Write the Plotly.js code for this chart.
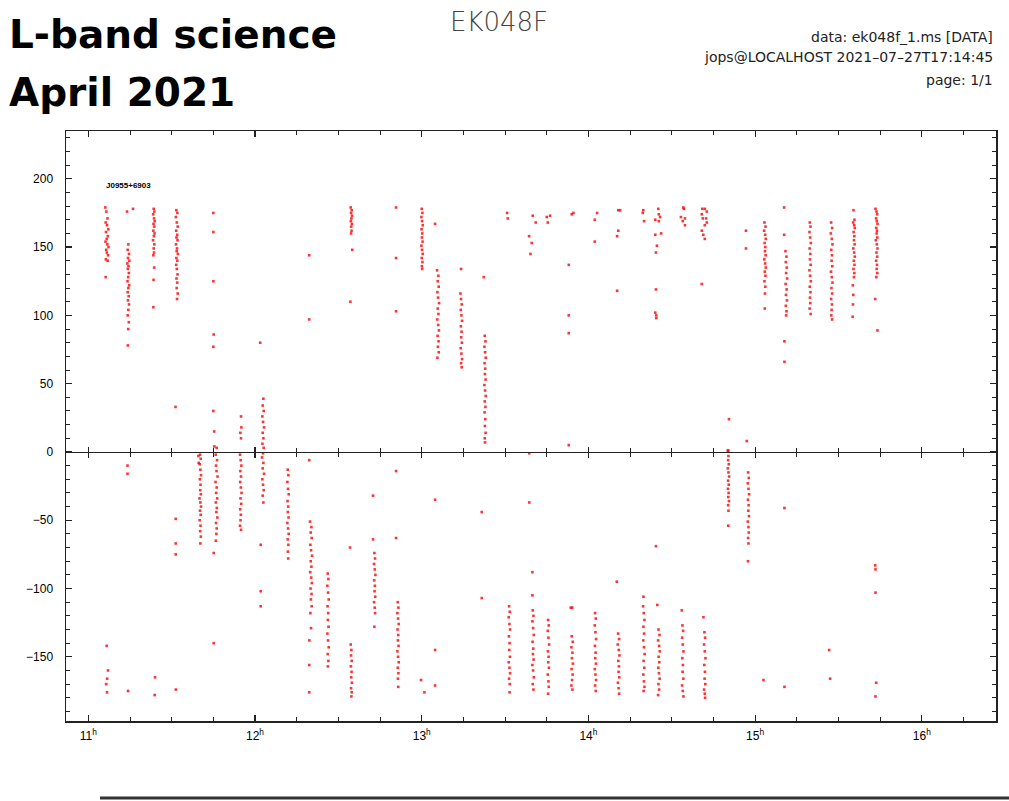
<!DOCTYPE html>
<html><head><meta charset="utf-8">
<script src="https://cdn.plot.ly/plotly-3.0.1.min.js"></script>
<style>html,body{margin:0;padding:0;background:#fff;} #chart{width:1009px;height:801px;}</style>
</head><body><div id="chart"></div>
<script>
// ---- data: time (hours UT) and phase (degrees) per scan ----
const s01t=[11.102,11.108,11.115,11.104,11.112,11.120,11.106,11.117,11.110,11.103,11.114,11.121,11.107,11.111,11.118,11.105,11.116,11.104,11.110,11.118,11.113,11.107,11.112];
const s01p=[179,176,171,168,166,163,161,158,156,154,152,150,148,146,144,141,140,128,-142,-160,-166,-170,-176];
const s02t=[11.268,11.232,11.240,11.236,11.244,11.238,11.246,11.234,11.241,11.237,11.243,11.239,11.235,11.245,11.240,11.236,11.242,11.238,11.244,11.240,11.236,11.243,11.239,11.237,11.235,11.235,11.238];
const s02p=[178,176,152,148,145,142,140,138,136,134,131,128,125,122,120,117,114,111,108,104,100,95,90,78,-10,-16,-175];
const s03t=[11.392,11.396,11.389,11.394,11.398,11.391,11.395,11.390,11.397,11.393,11.388,11.396,11.392,11.394,11.390,11.395,11.391,11.390,11.400,11.398];
const s03p=[178,176,174,171,169,167,165,162,160,158,155,152,149,146,144,135,126,106,-165,-178];
const s04t=[11.528,11.534,11.525,11.531,11.536,11.527,11.533,11.529,11.535,11.526,11.532,11.530,11.537,11.528,11.534,11.527,11.531,11.535,11.529,11.533,11.530,11.536,11.532,11.523,11.524,11.524,11.524,11.525];
const s04p=[177,175,172,168,165,162,159,157,155,152,149,147,145,142,140,137,134,130,127,124,120,116,112,33,-49,-67,-75,-174];
const s05t=[11.670,11.674,11.668,11.672,11.676,11.669,11.673,11.671,11.675,11.667,11.672,11.676,11.670,11.674,11.668,11.673,11.671,11.675,11.672,11.660,11.662];
const s05p=[-2,-5,-9,-13,-17,-20,-24,-28,-31,-34,-37,-40,-43,-46,-50,-54,-58,-62,-67,-3,-8];
const s06t=[11.750,11.750,11.750,11.752,11.750,11.750,11.755,11.756,11.770,11.764,11.772,11.766,11.769,11.775,11.763,11.770,11.767,11.773,11.765,11.771,11.768,11.774,11.766,11.770,11.768,11.765,11.752,11.752];
const s06p=[175,161,125,86,77,30,15,4,3,-2,-6,-10,-14,-18,-22,-26,-30,-34,-37,-41,-44,-48,-52,-56,-60,-65,-74,-140];
const s07t=[11.916,11.918,11.912,11.916,11.910,11.914,11.918,11.912,11.916,11.911,11.915,11.919,11.913,11.917,11.911,11.915,11.913,11.910,11.916];
const s07p=[26,18,14,10,-2,-6,-10,-14,-18,-22,-26,-30,-34,-38,-42,-46,-50,-54,-57];
const s08t=[12.031,12.050,12.046,12.052,12.044,12.048,12.054,12.046,12.050,12.044,12.052,12.048,12.042,12.050,12.046,12.054,12.044,12.048,12.052,12.046,12.050,12.034,12.034,12.034];
const s08p=[80,39,34,30,26,22,18,14,10,6,3,-1,-4,-8,-12,-16,-20,-24,-28,-32,-37,-68,-102,-113];
const s09t=[12.196,12.200,12.194,12.198,12.202,12.195,12.199,12.197,12.201,12.194,12.198,12.202,12.196,12.200,12.197,12.199];
const s09p=[-13,-17,-22,-27,-31,-36,-40,-44,-48,-52,-56,-60,-64,-68,-73,-78];
const s10t=[12.325,12.325,12.325,12.325,12.325,12.330,12.338,12.334,12.340,12.332,12.336,12.342,12.334,12.338,12.331,12.337,12.341,12.333,12.339,12.335,12.340,12.332,12.336,12.326];
const s10p=[144,97,-6,-156,-176,-51,-55,-59,-63,-68,-72,-76,-80,-84,-88,-92,-96,-100,-104,-108,-113,-118,-129,-138];
const s11t=[12.436,12.440,12.434,12.438,12.442,12.435,12.439,12.437,12.441,12.434,12.438,12.442,12.436,12.440,12.437];
const s11p=[-89,-93,-98,-103,-108,-113,-118,-123,-128,-133,-138,-143,-148,-153,-157];
const s12t=[12.574,12.580,12.576,12.582,12.578,12.575,12.581,12.577,12.579,12.576,12.583,12.572,12.570,12.574,12.578,12.576,12.580,12.575,12.579,12.577,12.581,12.576,12.580,12.578];
const s12p=[179,177,175,173,171,169,167,165,162,160,148,110,-70,-141,-145,-149,-153,-157,-161,-165,-169,-173,-176,-179];
const s13t=[12.708,12.708,12.716,12.720,12.714,12.718,12.722,12.715,12.719,12.717,12.721,12.714,12.718,12.720,12.716];
const s13p=[-32,-64,-74,-78,-82,-86,-90,-94,-98,-102,-106,-110,-114,-118,-128];
const s14t=[12.846,12.846,12.846,12.846,12.846,12.856,12.860,12.854,12.858,12.862,12.855,12.859,12.857,12.861,12.854,12.858,12.862,12.856,12.860,12.857,12.859];
const s14p=[179,142,103,-14,-63,-110,-114,-118,-122,-126,-130,-134,-138,-142,-146,-150,-154,-158,-162,-166,-172];
const s15t=[13.000,13.004,12.998,13.002,13.006,12.999,13.003,13.001,13.005,12.998,13.002,13.006,13.000,13.004,13.001,13.003,12.996,13.016];
const s15p=[178,175,172,169,166,163,160,157,154,151,148,145,142,139,136,134,-167,-176];
const s16t=[13.080,13.080,13.080,13.080,13.092,13.100,13.096,13.102,13.094,13.098,13.104,13.096,13.100,13.093,13.099,13.103,13.095,13.101,13.097,13.102,13.094];
const s16p=[167,-35,-145,-171,133,129,125,121,117,113,109,105,101,97,93,89,85,81,77,73,69];
const s17t=[13.236,13.232,13.236,13.240,13.234,13.238,13.242,13.235,13.239,13.237,13.241,13.234,13.238,13.242,13.236,13.240];
const s17p=[134,116,112,108,104,100,96,92,88,84,80,76,72,68,65,62];
const s18t=[13.372,13.378,13.382,13.376,13.380,13.384,13.377,13.381,13.379,13.383,13.376,13.380,13.384,13.378,13.382,13.377,13.381,13.379,13.383,13.378,13.380,13.360,13.360];
const s18p=[128,85,81,77,73,69,65,61,57,53,49,45,41,37,33,29,24,19,14,10,7,-44,-107];
const s19t=[13.512,13.516,13.524,13.528,13.522,13.526,13.530,13.523,13.527,13.525,13.529,13.522,13.526,13.530,13.524,13.528,13.527];
const s19p=[175,171,-113,-117,-121,-126,-130,-135,-140,-145,-150,-154,-158,-162,-166,-170,-176];
const s20t=[13.666,13.684,13.644,13.660,13.652,13.645,13.645,13.664,13.664,13.666,13.670,13.664,13.668,13.672,13.665,13.669,13.667,13.671,13.664,13.668,13.672,13.666,13.670];
const s20p=[173,168,158,153,145,-1,-37,-88,-105,-116,-120,-124,-129,-134,-139,-144,-148,-152,-156,-160,-165,-170,-174];
const s21t=[13.750,13.770,13.756,13.758,13.762,13.756,13.760,13.764,13.757,13.761,13.759,13.763,13.756,13.760,13.762,13.758];
const s21p=[172,173,168,-123,-127,-131,-136,-141,-146,-150,-154,-158,-163,-168,-172,-177];
const s22t=[13.900,13.910,13.882,13.882,13.882,13.882,13.894,13.903,13.900,13.906,13.898,13.904,13.901,13.907,13.899,13.905,13.902,13.898,13.904];
const s22p=[174,175,137,100,87,5,-114,-114,-135,-139,-143,-147,-151,-155,-159,-163,-167,-171,-174];
const s23t=[14.052,14.038,14.038,14.040,14.044,14.038,14.042,14.046,14.039,14.043,14.041,14.045,14.038,14.042,14.046,14.040,14.044];
const s23p=[175,170,154,-118,-122,-127,-132,-137,-142,-147,-151,-155,-159,-163,-167,-171,-175];
const s24t=[14.179,14.190,14.179,14.172,14.172,14.170,14.178,14.184,14.176,14.182,14.186,14.179,14.183,14.181,14.185,14.177,14.181,14.184];
const s24p=[177,177,162,158,118,-95,-133,-137,-141,-145,-149,-153,-157,-161,-165,-169,-173,-177];
const s25t=[14.329,14.326,14.334,14.330,14.328,14.332,14.336,14.330,14.334,14.329,14.333,14.337,14.331,14.335,14.329,14.333,14.336,14.331];
const s25p=[177,175,169,-106,-113,-118,-123,-128,-133,-138,-143,-148,-153,-158,-163,-168,-172,-175];
const s26t=[14.419,14.422,14.430,14.401,14.422,14.436,14.401,14.411,14.405,14.405,14.401,14.407,14.407,14.405,14.413,14.420,14.426,14.418,14.424,14.428,14.421,14.425,14.419,14.423,14.427,14.420,14.424,14.418];
const s26p=[178,174,172,170,169,160,159,151,146,119,102,100,98,-69,-112,-130,-134,-138,-142,-146,-150,-154,-158,-162,-166,-170,-174,-178];
const s27t=[14.569,14.573,14.555,14.579,14.566,14.579,14.560,14.564,14.568,14.562,14.566,14.570,14.563,14.567,14.565,14.569,14.562,14.566,14.570];
const s27p=[179,178,172,171,169,166,-116,-127,-131,-136,-141,-146,-151,-156,-161,-166,-171,-175,-179];
const s28t=[14.683,14.698,14.710,14.680,14.686,14.706,14.710,14.698,14.680,14.689,14.698,14.680,14.690,14.696,14.700,14.694,14.698,14.702,14.695,14.699,14.697,14.701,14.694,14.698,14.700];
const s28p=[178,178,176,174,171,171,168,166,162,159,156,123,-121,-132,-136,-141,-146,-151,-156,-161,-166,-170,-174,-177,-180];
const s29t=[14.843,14.839,14.836,14.840,14.838,14.842,14.836,14.840,14.844,14.838,14.842,14.837,14.841,14.839,14.843,14.838,14.840,14.839];
const s29p=[24,1,1,-3,-6,-9,-12,-15,-18,-21,-24,-27,-30,-33,-36,-39,-43,-54];
const s30t=[14.945,14.945,14.950,14.958,14.962,14.956,14.960,14.964,14.957,14.961,14.959,14.963,14.956,14.960,14.962,14.958,14.960,14.957];
const s30p=[162,149,8,-15,-19,-23,-27,-31,-35,-39,-43,-47,-51,-55,-59,-63,-67,-80];
const s31t=[15.056,15.062,15.054,15.060,15.064,15.057,15.061,15.059,15.063,15.055,15.060,15.064,15.058,15.062,15.056,15.061,15.059,15.058,15.050];
const s31p=[168,165,162,159,156,153,150,147,144,141,138,135,132,129,125,121,116,105,-167];
const s32t=[15.174,15.174,15.182,15.188,15.184,15.190,15.186,15.192,15.183,15.189,15.185,15.191,15.184,15.188,15.186,15.176,15.176,15.176,15.176];
const s32p=[179,159,147,143,139,135,131,127,123,119,115,111,107,103,100,81,66,-41,-172];
const s33t=[15.328,15.332,15.326,15.330,15.334,15.327,15.331,15.329,15.333,15.326,15.330,15.334,15.328,15.332,15.329,15.331,15.327,15.333];
const s33p=[168,165,161,157,153,149,145,141,137,133,129,125,121,117,113,109,105,101];
const s34t=[15.456,15.462,15.454,15.460,15.464,15.457,15.461,15.459,15.463,15.455,15.460,15.464,15.458,15.462,15.456,15.461,15.459,15.457,15.462,15.444,15.450];
const s34p=[168,164,160,156,152,148,144,140,136,132,128,124,120,116,112,108,104,100,97,-145,-166];
const s35t=[15.590,15.596,15.588,15.594,15.598,15.591,15.595,15.593,15.597,15.589,15.594,15.598,15.592,15.596,15.590,15.595,15.593,15.586,15.589,15.587,15.585];
const s35p=[177,170,168,166,164,161,158,155,152,149,146,143,140,137,134,131,128,122,115,108,99];
const s36t=[15.722,15.728,15.732,15.726,15.730,15.734,15.727,15.731,15.729,15.733,15.724,15.730,15.734,15.728,15.732,15.726,15.731,15.729,15.733,15.727,15.720,15.734,15.720,15.722,15.722,15.726,15.722];
const s36p=[178,176,174,171,169,167,164,162,160,157,155,152,149,146,143,140,137,134,131,128,112,89,-83,-86,-103,-169,-179];

const hourTicks=[11,12,13,14,15,16];
const hourLabels=['11<sup>h</sup>','12<sup>h</sup>','13<sup>h</sup>','14<sup>h</sup>','15<sup>h</sup>','16<sup>h</sup>'];
const xRange=[10.866,16.445];
const yRange=[-197,235];

const scans=[[s01t,s01p],[s02t,s02p],[s03t,s03p],[s04t,s04p],[s05t,s05p],[s06t,s06p],[s07t,s07p],[s08t,s08p],[s09t,s09p],[s10t,s10p],[s11t,s11p],[s12t,s12p],[s13t,s13p],[s14t,s14p],[s15t,s15p],[s16t,s16p],[s17t,s17p],[s18t,s18p],[s19t,s19p],[s20t,s20p],[s21t,s21p],[s22t,s22p],[s23t,s23p],[s24t,s24p],[s25t,s25p],[s26t,s26p],[s27t,s27p],[s28t,s28p],[s29t,s29p],[s30t,s30p],[s31t,s31p],[s32t,s32p],[s33t,s33p],[s34t,s34p],[s35t,s35p],[s36t,s36p]];

const X=[],Y=[];
scans.forEach(([t,p])=>{const n=Math.min(t.length,p.length);for(let i=0;i<n;i++){X.push(t[i]);Y.push(p[i]);}});

const zeroPos=(0-yRange[0])/(yRange[1]-yRange[0]);

const tickFont={family:'Liberation Sans, Arial, sans-serif',size:12,color:'#000'};
const traces=[
  {type:'scatter',mode:'markers',x:X,y:Y,xaxis:'x',yaxis:'y',
   marker:{symbol:'square',size:2.6,color:'rgba(255,0,0,0.8)',line:{width:0}},hoverinfo:'x+y',showlegend:false},
  {type:'scatter',mode:'markers',x:[],y:[],xaxis:'x2',yaxis:'y',showlegend:false,hoverinfo:'skip'},
  {type:'scatter',mode:'markers',x:[],y:[],xaxis:'x3',yaxis:'y',showlegend:false,hoverinfo:'skip'}
];

const baseX={range:xRange,showgrid:false,zeroline:false,showline:true,linecolor:'#222',linewidth:1.5,
  tickmode:'array',tickvals:hourTicks,ticktext:hourLabels,tickcolor:'#222',tickwidth:1.2};

const titleFont={family:'DejaVu Sans, sans-serif',size:39,weight:'bold',color:'#000'};
const layout={
  width:1009,height:801,paper_bgcolor:'#fff',plot_bgcolor:'#fff',
  margin:{l:66,r:13,t:131,b:80},
  showlegend:false,
  xaxis:Object.assign({},baseX,{mirror:'ticks',ticks:'inside',ticklen:6,tickfont:tickFont,ticklabelstandoff:3,
    minor:{tickmode:'linear',tick0:11,dtick:0.25,ticks:'inside',ticklen:4,tickcolor:'#222',tickwidth:1}}),
  xaxis2:Object.assign({},baseX,{overlaying:'x',anchor:'free',position:zeroPos,side:'bottom',showticklabels:false,ticks:'inside',ticklen:5,
    minor:{tickmode:'linear',tick0:11,dtick:0.25,ticks:'inside',ticklen:4,tickcolor:'#222',tickwidth:1}}),
  xaxis3:Object.assign({},baseX,{overlaying:'x',anchor:'free',position:zeroPos,side:'bottom',showticklabels:false,ticks:'outside',ticklen:5,
    minor:{tickmode:'linear',tick0:11,dtick:0.25,ticks:'outside',ticklen:4,tickcolor:'#222',tickwidth:1}}),
  yaxis:{range:yRange,showgrid:false,zeroline:false,showline:true,mirror:'ticks',linecolor:'#222',linewidth:1.5,
    ticks:'inside',ticklen:6,tickcolor:'#222',tickwidth:1.2,dtick:50,tick0:0,tickfont:tickFont,ticklabelstandoff:9,
    minor:{dtick:10,ticks:'inside',ticklen:4,tickcolor:'#222',tickwidth:1}},
  annotations:[
    {text:'L-band science',xref:'paper',yref:'paper',x:(7-66)/930,y:(721-34)/590,xanchor:'left',yanchor:'middle',showarrow:false,font:titleFont},
    {text:'April 2021',xref:'paper',yref:'paper',x:(7-66)/930,y:(721-92)/590,xanchor:'left',yanchor:'middle',showarrow:false,font:titleFont},
    {text:'EK048F',xref:'paper',yref:'paper',x:(448-66)/930,y:(721-22)/590,xanchor:'left',yanchor:'middle',showarrow:false,
     font:{family:'DejaVu Sans, sans-serif',size:26,color:'#444',weight:200}},
    {text:'data: ek048f_1.ms [DATA]',xref:'paper',yref:'paper',x:(995-66)/930,y:(721-37)/590,xanchor:'right',yanchor:'middle',showarrow:false,
     font:{family:'DejaVu Sans, sans-serif',size:14,color:'#222'}},
    {text:'jops@LOCALHOST 2021\u201307\u201327T17:14:45',xref:'paper',yref:'paper',x:(995-66)/930,y:(721-57)/590,xanchor:'right',yanchor:'middle',showarrow:false,
     font:{family:'DejaVu Sans, sans-serif',size:14,color:'#222'}},
    {text:'page: 1/1',xref:'paper',yref:'paper',x:(995-66)/930,y:(721-80)/590,xanchor:'right',yanchor:'middle',showarrow:false,
     font:{family:'DejaVu Sans, sans-serif',size:14,color:'#222'}},
    {text:'J0955+6903',xref:'paper',yref:'paper',x:(104-66)/930,y:(721-185)/590,xanchor:'left',yanchor:'middle',showarrow:false,
     font:{family:'Liberation Sans, Arial, sans-serif',size:8,color:'#000',weight:'bold'}}
  ],
  shapes:[
    {type:'line',xref:'paper',yref:'paper',x0:(100-66)/930,x1:(1009-66)/930,y0:(721-798)/590,y1:(721-798)/590,
     line:{color:'#333',width:3}}
  ]
};

Plotly.newPlot('chart',traces,layout,{displayModeBar:false,staticPlot:true});
</script>
</body></html>
